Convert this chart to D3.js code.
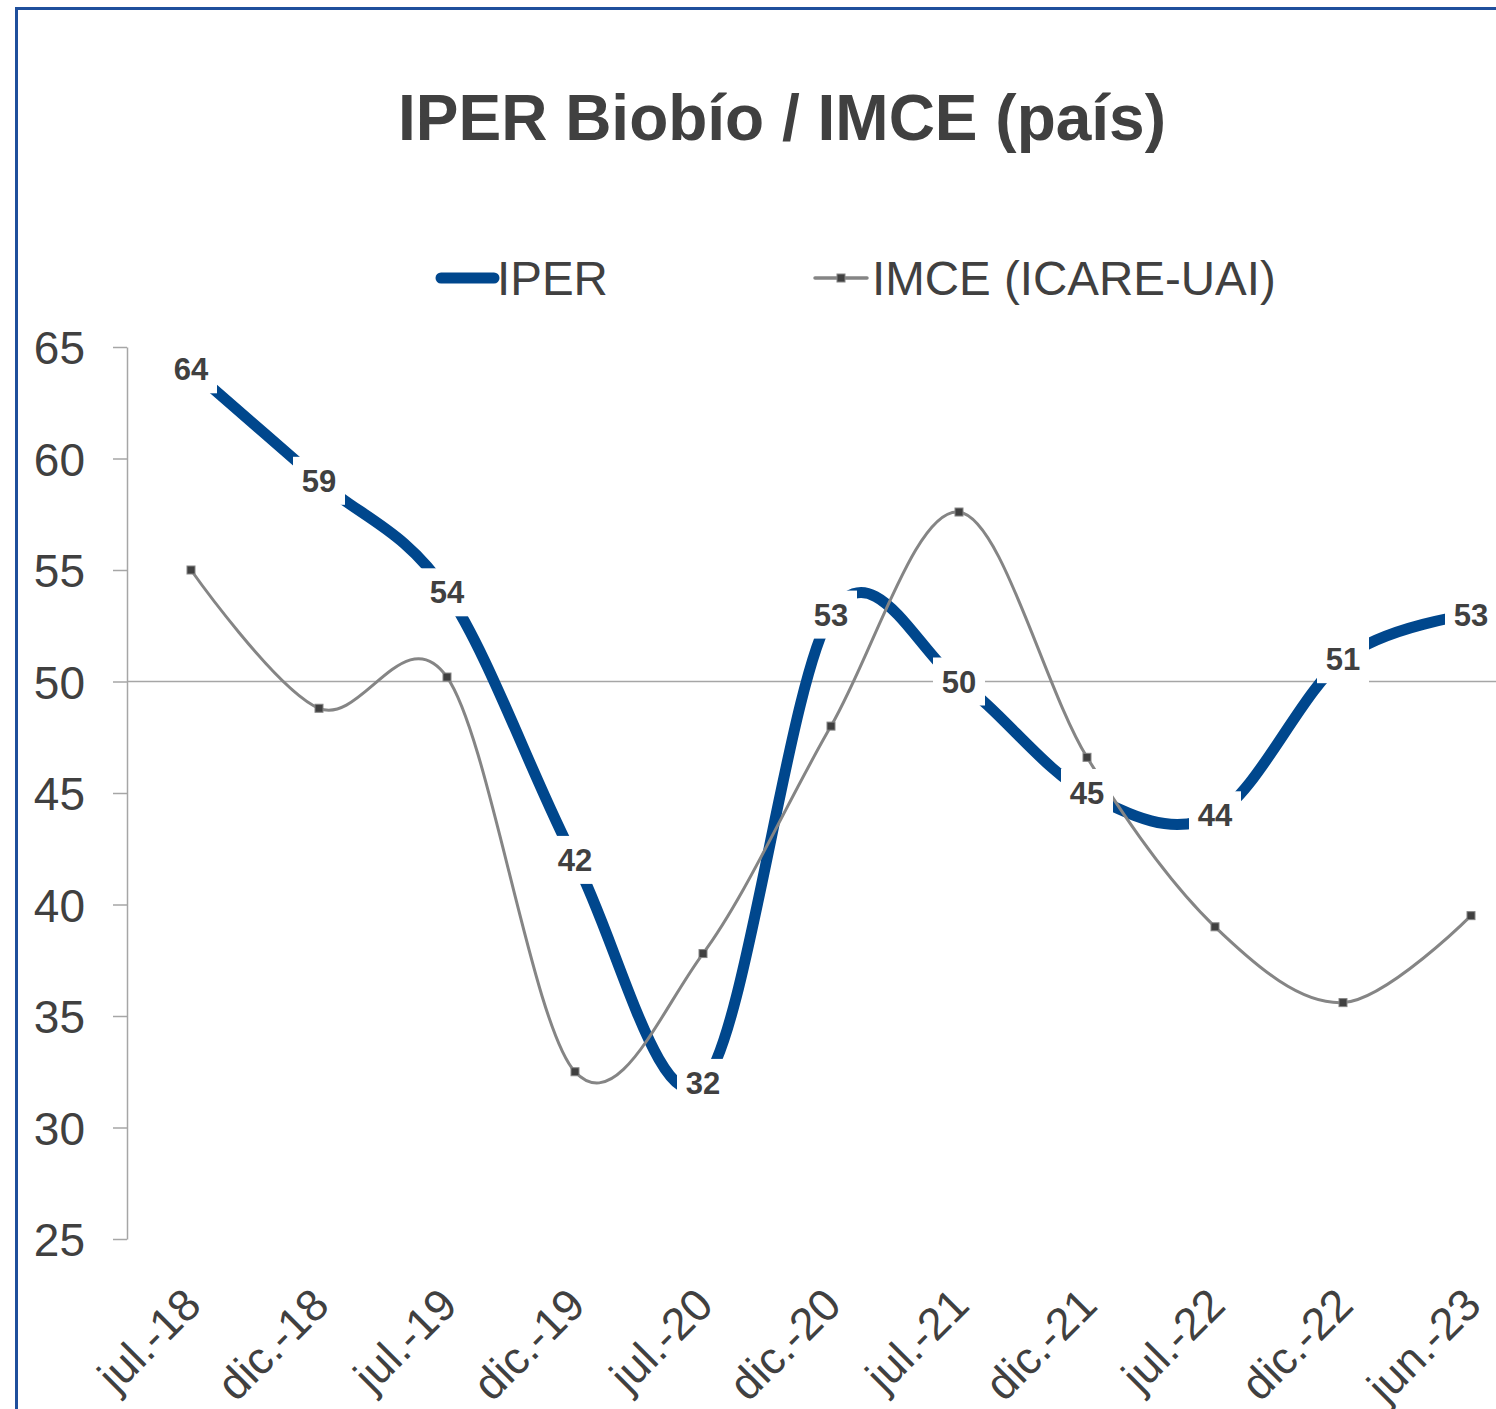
<!DOCTYPE html>
<meta charset="utf-8">
<style>
    body { margin: 0; background: #fff; }
    svg { display: block; font-family: "Liberation Sans", Arial, sans-serif; }
    .axis path, .axis line { stroke: #a6a6a6; stroke-width: 1.5px; }
    .axis text { fill: #404040; font-size: 46px; }
</style>
<svg width="1496" height="1409"></svg>
<script src="https://d3js.org/d3.v7.min.js"></script>
<script>

    var categories = ["jul.-18", "dic.-18", "jul.-19", "dic.-19", "jul.-20", "dic.-20",
        "jul.-21", "dic.-21", "jul.-22", "dic.-22", "jun.-23"];
    var iper = [64, 59, 54, 42, 32, 53, 50, 45, 44, 51, 53];
    var imce = [55.0, 48.8, 50.2, 32.5, 37.8, 48.0, 57.6, 46.6, 39.0, 35.6, 39.5];
    var yTicks = [25, 30, 35, 40, 45, 50, 55, 60, 65];

    var svg = d3.select("svg"),
        width = +svg.attr("width"),
        height = +svg.attr("height");

    var blue = "#00478d", grey = "#858585", text = "#404040";

    // frame
    svg.append("rect")
        .attr("x", 16.5).attr("y", 8.5)
        .attr("width", width + 20).attr("height", height + 20)
        .attr("fill", "none")
        .attr("stroke", "#1f4f9c")
        .attr("stroke-width", 3);

    // plot runs past the right edge, like the source
    var x = d3.scalePoint()
        .domain(categories)
        .range([127, 1535])
        .padding(0.5);

    var y = d3.scaleLinear()
        .domain([25, 65])
        .range([1239, 347]);

    svg.append("text")
        .attr("x", 782).attr("y", 140)
        .attr("text-anchor", "middle")
        .attr("font-size", 64)
        .attr("font-weight", "bold")
        .attr("fill", text)
        .text("IPER Biobío / IMCE (país)");

    // legend
    var legend = svg.append("g");
    legend.append("line")
        .attr("x1", 441).attr("x2", 494).attr("y1", 278).attr("y2", 278)
        .attr("stroke", blue).attr("stroke-width", 11).attr("stroke-linecap", "round");
    legend.append("text")
        .attr("x", 497).attr("y", 295)
        .attr("font-size", 47.5).attr("fill", text)
        .text("IPER");
    legend.append("line")
        .attr("x1", 815).attr("x2", 867).attr("y1", 278).attr("y2", 278)
        .attr("stroke", grey).attr("stroke-width", 3.5).attr("stroke-linecap", "round");
    legend.append("rect")
        .attr("x", 837).attr("y", 274).attr("width", 8).attr("height", 8)
        .attr("fill", text).attr("stroke", grey);
    legend.append("text")
        .attr("x", 872).attr("y", 295)
        .attr("font-size", 47.5).attr("fill", text)
        .text("IMCE (ICARE-UAI)");

    // y axis
    svg.append("g")
        .attr("class", "axis")
        .attr("transform", "translate(127,0)")
        .call(d3.axisLeft(y).tickValues(yTicks).tickSize(14).tickSizeOuter(0).tickPadding(28))
        .call(function (g) { g.selectAll("text").attr("dy", "0.36em"); });

    // horizontal axis crosses at 50
    svg.append("line")
        .attr("x1", 127).attr("x2", width)
        .attr("y1", y(50)).attr("y2", y(50))
        .attr("stroke", "#a6a6a6").attr("stroke-width", 1.5);

    svg.append("g")
        .selectAll("text")
        .data(categories)
        .enter()
        .append("text")
        .attr("transform", function (d) {
            return "translate(" + (x(d) + 1) + ",1296) rotate(-45)";
        })
        .attr("text-anchor", "end")
        .attr("dy", "0.36em")
        .attr("font-size", 45)
        .attr("fill", text)
        .text(function (d) { return d; });

    var line = d3.line()
        .curve(d3.curveCardinal.tension(0));

    svg.append("path")
        .attr("d", line(iper.map(function (v, i) { return [x(categories[i]), y(v)]; })))
        .attr("fill", "none")
        .attr("stroke", blue)
        .attr("stroke-width", 11);

    svg.append("path")
        .attr("d", line(imce.map(function (v, i) { return [x(categories[i]), y(v)]; })))
        .attr("fill", "none")
        .attr("stroke", grey)
        .attr("stroke-width", 3);

    svg.append("g")
        .selectAll("rect")
        .data(imce)
        .enter()
        .append("rect")
        .attr("x", function (d, i) { return x(categories[i]) - 4; })
        .attr("y", function (d) { return y(d) - 4; })
        .attr("width", 8).attr("height", 8)
        .attr("fill", text)
        .attr("stroke", grey)
        .attr("stroke-width", 1);

    // data labels with white boxes
    var labels = svg.append("g")
        .selectAll("g")
        .data(iper)
        .enter()
        .append("g")
        .attr("transform", function (d, i) {
            return "translate(" + x(categories[i]) + "," + y(d) + ")";
        });

    labels.append("rect")
        .attr("x", -26).attr("y", -24)
        .attr("width", 52).attr("height", 48)
        .attr("fill", "#fff");

    labels.append("text")
        .attr("text-anchor", "middle")
        .attr("dy", "0.36em")
        .attr("font-size", 31)
        .attr("font-weight", "bold")
        .attr("fill", text)
        .text(function (d) { return d; });

</script>
